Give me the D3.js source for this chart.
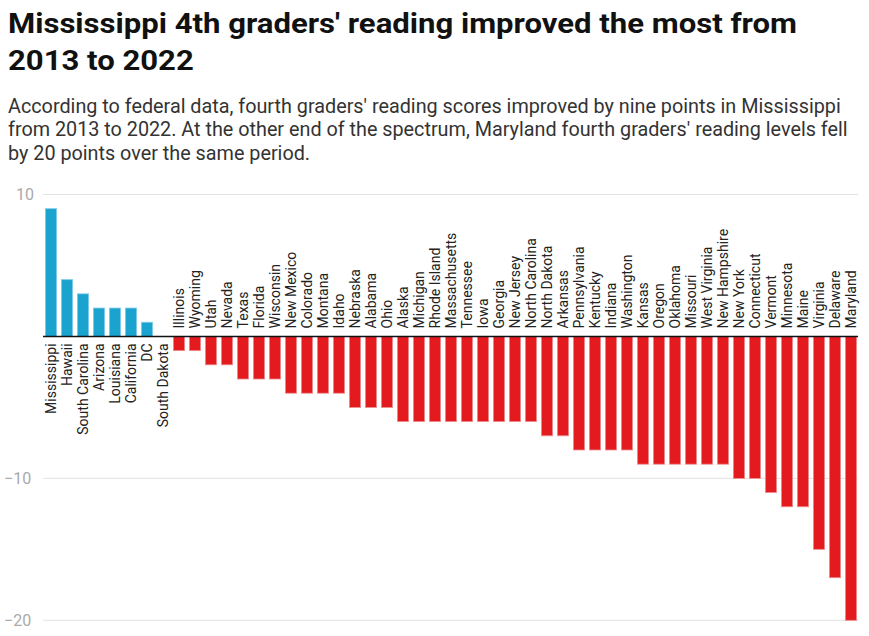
<!DOCTYPE html>
<html><head><meta charset="utf-8">
<script src="https://cdn.jsdelivr.net/npm/d3@7"></script>
<style>
body{margin:0;background:#fff;font-family:Roboto,"Noto Sans",sans-serif;}
#title{position:absolute;left:8px;top:4.5px;width:770px;font-size:28px;font-weight:700;line-height:37px;color:#111;transform:scaleX(1.11);transform-origin:0 0;}
#sub{position:absolute;left:8px;top:94.5px;width:848px;font-size:19.8px;line-height:23.5px;color:#333;}
svg{position:absolute;left:0;top:0;}
</style></head><body>
<div id="title">Mississippi 4th graders' reading improved the most from 2013 to 2022</div>
<div id="sub">According to federal data, fourth graders' reading scores improved by nine points in Mississippi from 2013 to 2022. At the other end of the spectrum, Maryland fourth graders' reading levels fell by 20 points over the same period.</div>
<svg id="chart" width="869" height="636"></svg>
<script>
const states = ["Mississippi","Hawaii","South Carolina","Arizona","Louisiana","California","DC","South Dakota","Illinois","Wyoming","Utah","Nevada","Texas","Florida","Wisconsin","New Mexico","Colorado","Montana","Idaho","Nebraska","Alabama","Ohio","Alaska","Michigan","Rhode Island","Massachusetts","Tennessee","Iowa","Georgia","New Jersey","North Carolina","North Dakota","Arkansas","Pennsylvania","Kentucky","Indiana","Washington","Kansas","Oregon","Oklahoma","Missouri","West Virginia","New Hampshire","New York","Connecticut","Vermont","Minnesota","Maine","Virginia","Delaware","Maryland"];
const changes = [9,4,3,2,2,2,1,0,-1,-1,-2,-2,-3,-3,-3,-4,-4,-4,-4,-5,-5,-5,-6,-6,-6,-6,-6,-6,-6,-6,-6,-7,-7,-8,-8,-8,-8,-9,-9,-9,-9,-9,-9,-10,-10,-11,-12,-12,-15,-17,-20];
const yTicks = [10,-10,-20];

const svg = d3.select("#chart");
const x = d3.scaleBand().domain(states).range([43,859]).paddingInner(0.3).paddingOuter(0.15);
const y = d3.scaleLinear().domain([-20,10]).range([620.3,194.5]);

svg.append("g").selectAll("line").data(yTicks).join("line")
  .attr("x1",43).attr("x2",858).attr("y1",d=>y(d)).attr("y2",d=>y(d))
  .attr("stroke","#e3e3e3").attr("stroke-width",1);
svg.append("g").selectAll("text").data(yTicks).join("text")
  .attr("x",d=>d<0?4:16).attr("y",d=>y(d)).attr("dy","0.36em")
  .attr("font-size",16).attr("fill","#aaa")
  .text(d=>d<0?"\u2212"+Math.abs(d):d);

const data = states.map((s,i)=>({s,v:changes[i]}));
svg.append("g").selectAll("rect").data(data.filter(d=>d.v!==0)).join("rect")
  .attr("x",d=>x(d.s)).attr("width",x.bandwidth())
  .attr("y",d=>y(Math.max(0,d.v))).attr("height",d=>Math.abs(y(d.v)-y(0)))
  .attr("fill",d=>d.v>0?"#1ba3d0":"#e31b1f")
  .attr("stroke",d=>d.v>0?"#7fcbe6":"#f08a8c").attr("stroke-width",0.8);

svg.append("line").attr("x1",43).attr("x2",858).attr("y1",y(0)).attr("y2",y(0))
  .attr("stroke","#111").attr("stroke-width",1.5);

svg.append("g").selectAll("text").data(data).join("text")
  .attr("transform",d=>{const cx=x(d.s)+x.bandwidth()/2; const yy=d.v<0?y(0)-8:y(0)+7; return `translate(${cx+5},${yy}) rotate(-90)`;})
  .attr("text-anchor",d=>d.v<0?"start":"end")
  .attr("font-size",14).attr("fill","#222")
  .text(d=>d.s);
</script>
</body></html>
